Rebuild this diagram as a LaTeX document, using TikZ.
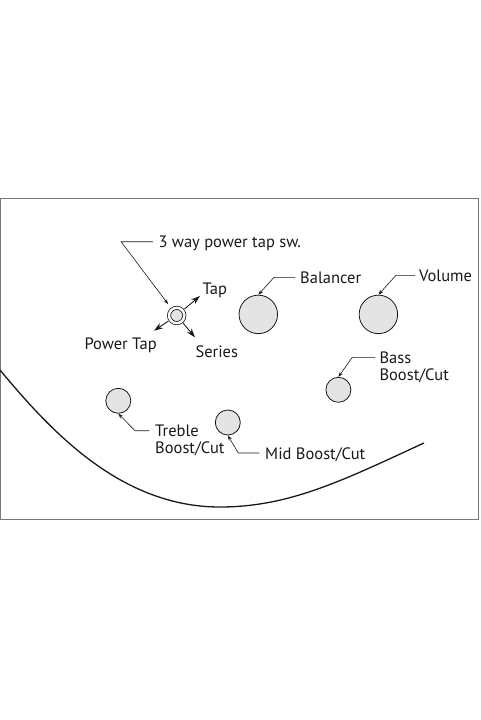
\documentclass[tikz,border=0pt]{standalone}
\usepackage{fontspec}
\setmainfont{PT Sans}
\usepackage{tikz}
\usetikzlibrary{arrows.meta,calc}
\usepackage{xcolor}
\definecolor{knobgray}{RGB}{228,228,228}
\definecolor{inkgray}{RGB}{25,25,25}
\definecolor{framegray}{RGB}{120,120,120}
\tikzset{
  knob/.style={circle,draw=inkgray,fill=knobgray,line width=0.8pt,
               inner sep=0pt},
  bigknob/.style={knob,minimum size=38.5pt},
  smallknob/.style={knob,minimum size=25pt},
  lbl/.style={font=\fontsize{16.5}{17}\selectfont,text=inkgray,
              inner sep=0pt,anchor=base west,align=left},
  lead/.style={-{Stealth[length=5pt,width=3.5pt]},line width=0.6pt,inkgray},
  dir/.style={-{Stealth[length=9pt,width=6pt]},line width=0.9pt,inkgray},
}

\begin{document}
\begin{tikzpicture}[x=1pt,y=-1pt,
    swknob/.style={knob,double=white,double distance=2.4pt,
                   minimum size=15.3pt,outer sep=2.5pt},
  ]
    \useasboundingbox (0,0) rectangle (480,720);
    % frame and body edge
    \draw[framegray,line width=1.2pt] (0.6,198.3) rectangle (478.4,519.8);
    \draw[inkgray,line width=1.3pt] (0,370)
      .. controls (50,430) and (120,507) .. (220,507)
      .. controls (290,507) and (344,479.8) .. (424,443);
    % knobs
    \node[swknob] (sw) at (176.7,315.5) {};
    \node[bigknob] (bal) at (258.3,314.4) {};
    \node[bigknob] (vol) at (378.4,314.4) {};
    \node[smallknob] (bass) at (338.4,389.8) {};
    \node[smallknob] (treb) at (118.3,400.8) {};
    \node[smallknob] (mid) at (227.8,422.5) {};
    % switch positions
    \coordinate (tapend) at (200,296);
    \coordinate (ptend) at (154,330.7);
    \coordinate (serend) at (195,337.3);
    \draw[dir] (sw) -- (tapend);
    \draw[dir] (sw) -- (ptend);
    \draw[dir] (sw) -- (serend);
    \node[lbl] (taptxt) at (202.3,294) {Tap};
    \node[lbl] (pttxt) at (84.3,349.3) {Power Tap};
    \node[lbl] (sertxt) at (195.3,357.3) {Series};
    % labels (two-line ones sit on their last baseline)
    \node[lbl] (swtxt) at (158.3,247.3) {3 way power tap sw.};
    \node[lbl] (baltxt) at (300,283.3) {Balancer};
    \node[lbl] (voltxt) at (419,281.3) {Volume};
    \node[lbl] (basstxt) at (379.3,380.3) {Bass\\Boost/Cut};
    \node[lbl] (trebtxt) at (155,453.7) {Treble\\Boost/Cut};
    \node[lbl] (midtxt) at (265,459) {Mid Boost/Cut};
    % leaders
    \draw[lead,shorten >=4pt] ($(swtxt.base west)+(-5.5,-5.6)$)
      -- ++(-31.7,0) -- (sw);
    \draw[lead] ($(baltxt.base west)+(-5,-6)$) -- ++(-21,0) -- (bal.north);
    \draw[lead] ($(voltxt.base west)+(-4,-6)$) -- ++(-19,0) -- (vol.north);
    \draw[lead] ($(basstxt.base west)+(-4.3,-23)$) -- ++(-22.7,0)
      -- (bass.north);
    \draw[lead] ($(trebtxt.base west)+(-5.7,-23)$) -- ++(-14.3,0)
      -- (treb.south);
    \draw[lead] ($(midtxt.base west)+(-5.7,-6)$) -- ++(-21,0) -- (mid.south);
  \end{tikzpicture}
\end{document}
